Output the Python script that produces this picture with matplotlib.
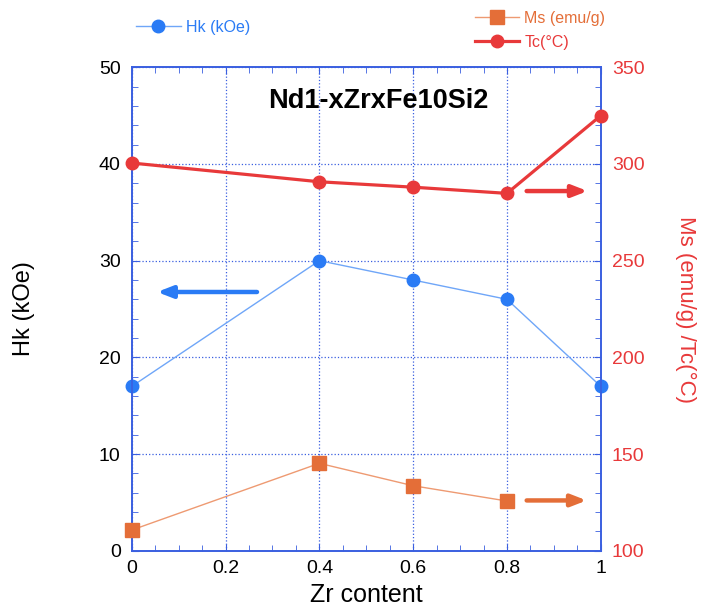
import matplotlib
matplotlib.use("Agg")
import matplotlib.pyplot as plt
from matplotlib.ticker import MultipleLocator

plt.rcParams['font.family'] = ['Liberation Sans', 'DejaVu Sans']

zr = [0, 0.4, 0.6, 0.8, 1.0]
hk = [17, 30, 28, 26, 17]
tc = [300.5, 290.8, 288, 284.8, 325]
zr_ms = [0, 0.4, 0.6, 0.8]
ms = [110.7, 145.2, 133.6, 125.7]

title = "Nd1-xZrxFe10Si2"
xlabel = "Zr content"
ylabel_left = "Hk (kOe)"
ylabel_right = "Ms (emu/g) /Tc(°C)"

BLUE = "#2A7BF5"
BLUE_L = "#6FA6F8"
RED = "#E8393A"
ORANGE = "#E46E38"
ORANGE_L = "#EE9A72"
SPINE = "#3A5FE0"

fig = plt.figure(figsize=(7.01, 6.09), dpi=100)
ax = fig.add_axes([0.188, 0.0957, 0.669, 0.7938])
ax2 = ax.twinx()

ax.set_xlim(0, 1)
ax.set_ylim(0, 50)
ax2.set_ylim(100, 350)

ax.xaxis.set_major_locator(MultipleLocator(0.2))
ax.xaxis.set_minor_locator(MultipleLocator(0.05))
ax.yaxis.set_major_locator(MultipleLocator(10))
ax.yaxis.set_minor_locator(MultipleLocator(2))
ax2.yaxis.set_major_locator(MultipleLocator(50))
ax2.yaxis.set_minor_locator(MultipleLocator(10))
ax.set_xticks([0, 0.2, 0.4, 0.6, 0.8, 1.0])
ax.set_xticklabels(["0", "0.2", "0.4", "0.6", "0.8", "1"])

ax.grid(True, which='major', linestyle=':', color=SPINE, linewidth=0.9)
ax.set_axisbelow(True)

for a in (ax, ax2):
    for s in a.spines.values():
        s.set_color(SPINE)
        s.set_linewidth(1.2)

ax.tick_params(which='both', direction='in', top=True, right=False, color=SPINE,
               labelsize=14, pad=7)
ax.tick_params(which='major', length=5)
ax.tick_params(which='minor', length=4.5)
ax.tick_params(axis='y', labelcolor='black', pad=8)
ax2.tick_params(which='both', direction='in', color=SPINE, labelsize=14,
                labelcolor=RED, pad=8)
ax2.tick_params(which='major', length=5)
ax2.tick_params(which='minor', length=4.5)

l_hk, = ax.plot(zr, hk, color=BLUE_L, linewidth=1.0, marker='o', markersize=9,
                markerfacecolor=BLUE, markeredgecolor=BLUE, clip_on=False, zorder=5,
                label="Hk (kOe)")
l_ms, = ax2.plot(zr_ms, ms, color=ORANGE_L, linewidth=1.0, marker='s', markersize=9.5,
                 markerfacecolor=ORANGE, markeredgecolor=ORANGE, clip_on=False, zorder=5,
                 label="Ms (emu/g)")
l_tc, = ax2.plot(zr, tc, color=RED, linewidth=2.3, marker='o', markersize=9,
                 markerfacecolor=RED, markeredgecolor=RED, clip_on=False, zorder=6,
                 label="Tc(°C)")

ax.set_xlabel(xlabel, fontsize=18, labelpad=4)
ax.set_ylabel(ylabel_left, fontsize=17, labelpad=46)
ax2.set_ylabel(ylabel_right, fontsize=16, color=RED, rotation=-90, labelpad=37)

ax.text(0.525, 0.93, title, transform=ax.transAxes, fontsize=19.5,
        fontweight='bold', ha='center', va='center', color='black')

# arrows
arr_kw = dict(arrowstyle='-|>,head_length=0.9,head_width=0.35', linewidth=3.2,
              shrinkA=0, shrinkB=0)
ax.annotate("", xy=(0.054, 26.76), xytext=(0.267, 26.76), xycoords='data',
            arrowprops=dict(color=BLUE, **arr_kw))
ax.annotate("", xy=(0.972, 37.2), xytext=(0.842, 37.2),
            arrowprops=dict(color=RED, **arr_kw))
ax.annotate("", xy=(0.970, 5.2), xytext=(0.842, 5.2),
            arrowprops=dict(color=ORANGE, **arr_kw))

# legends
leg1 = fig.legend(handles=[l_hk], loc='center left', bbox_to_anchor=(0.185, 0.955),
                  frameon=False, fontsize=11.5, handlelength=2.8, handletextpad=0.3,
                  labelcolor=[BLUE], borderaxespad=0)
leg2 = fig.legend(handles=[l_ms, l_tc], loc='center left', bbox_to_anchor=(0.668, 0.950),
                  frameon=False, fontsize=11.5, handlelength=2.8, handletextpad=0.3,
                  labelcolor=[ORANGE, RED], borderaxespad=0, labelspacing=0.55)

fig.savefig("out.png", dpi=100)
